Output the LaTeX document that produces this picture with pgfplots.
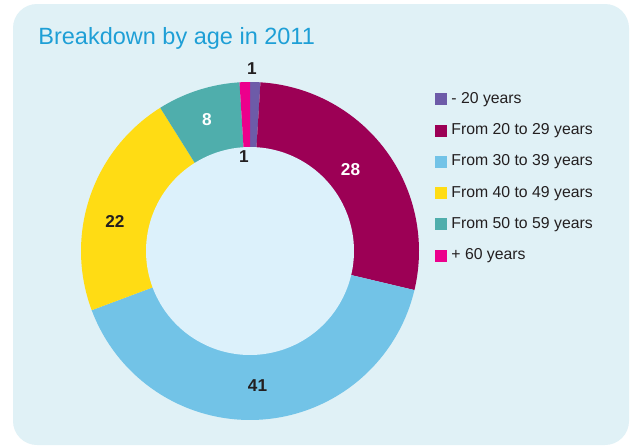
\documentclass[border=0pt]{standalone}
\usepackage{pgfplots}
\pgfplotsset{compat=1.18}
\usepackage{fontspec}
\setmainfont{Liberation Sans}
\definecolor{titlec}{HTML}{1E9FD6}
\definecolor{textc}{HTML}{231F20}
\definecolor{cardc}{HTML}{E0F1F6}
\definecolor{innerc}{HTML}{DCF1FB}
\definecolor{c1}{HTML}{6D5BA8}
\definecolor{c2}{HTML}{9C0055}
\definecolor{c3}{HTML}{72C3E7}
\definecolor{c4}{HTML}{FFDC14}
\definecolor{c5}{HTML}{4FAEAC}
\definecolor{c6}{HTML}{EC008C}
% cumulative counts of the values 1, 28, 41, 22, 8, 1 (total 101)
\newcommand\seg[3]{%
  \addplot[fill=#1, draw=none, domain=#2*360/101:#3*360/101, samples=90]
    ({250+169*sin(x)},{251-169*cos(x)}) -- (axis cs:250,251) -- cycle;}
\begin{document}
\begin{tikzpicture}
\begin{axis}[
  scale only axis, width=316pt, height=222.5pt,
  xmin=0, xmax=632, ymin=0, ymax=445, y dir=reverse,
  hide axis, clip=false,
  legend image code/.code={\fill[#1] (0pt,-3pt) rectangle (6pt,3pt);},
  legend style={at={(axis cs:435,88)}, anchor=north west, draw=none, fill=none,
    font=\fontsize{7.9}{9}\selectfont, text=textc, row sep=4.6pt,
    inner sep=0pt, cells={anchor=west}},
]
\fill[white] (axis cs:0,0) rectangle (axis cs:632,445);
\fill[cardc, rounded corners=12pt] (axis cs:13,4) rectangle (axis cs:629,445);
\seg{c1}{0}{1}
\seg{c2}{1}{29}
\seg{c3}{29}{70}
\seg{c4}{70}{92}
\seg{c5}{92}{100}
\seg{c6}{100}{101}
\addplot[forget plot, fill=innerc, draw=none, domain=0:360, samples=150]
  ({250+104*sin(x)},{251-104*cos(x)}) -- cycle;
\legend{- 20 years, From 20 to 29 years, From 30 to 39 years,
  From 40 to 49 years, From 50 to 59 years, + 60 years}
\node[anchor=base west, inner sep=0pt, text=titlec, font=\fontsize{11.75}{13}\selectfont] at (axis cs:38,44) {Breakdown by age in 2011};
\begin{scope}[font=\fontsize{8.6}{10}\bfseries, text=textc]
\node at (axis cs:252,69) {1};
\node[text=white] at (axis cs:350.5,170) {28};
\node at (axis cs:257.5,386) {41};
\node at (axis cs:115,221) {22};
\node[text=white] at (axis cs:207,120) {8};
\node at (axis cs:244,157) {1};
\end{scope}
\end{axis}
\end{tikzpicture}
\end{document}
